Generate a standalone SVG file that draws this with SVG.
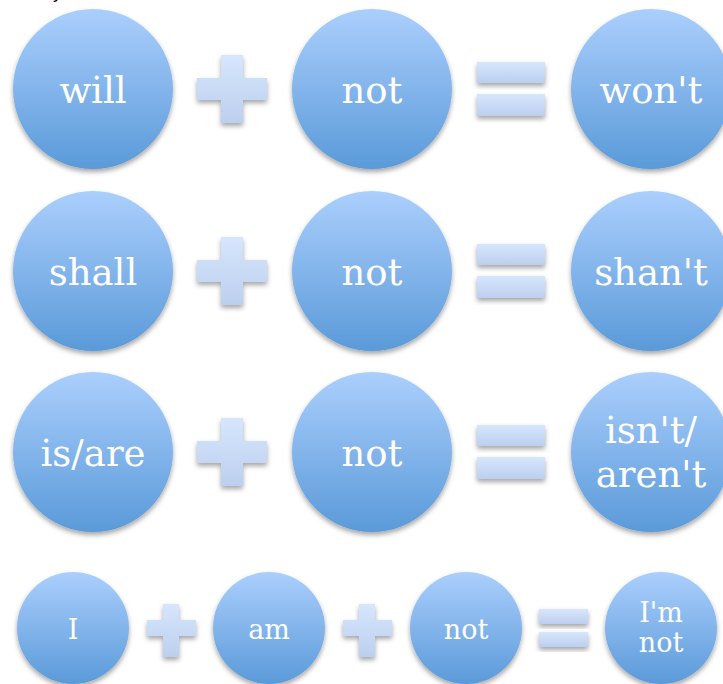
<svg xmlns="http://www.w3.org/2000/svg" width="723" height="684" viewBox="0 0 723 684">
<defs>
<linearGradient id="gc" x1="0" y1="0" x2="0" y2="1">
<stop offset="0" stop-color="#abcffd"/>
<stop offset="1" stop-color="#5a9ad9"/>
</linearGradient>
<linearGradient id="gs" x1="0" y1="0" x2="0" y2="1" gradientUnits="objectBoundingBox">
<stop offset="0" stop-color="#d6e6fd"/>
<stop offset="1" stop-color="#bccfee"/>
</linearGradient>
<filter id="sh" x="-20%" y="-20%" width="140%" height="150%">
<feDropShadow dx="0" dy="3" stdDeviation="2.5" flood-color="#000" flood-opacity="0.35"/>
</filter>
</defs>
<style>
.c{fill:url(#gc);filter:url(#sh)}
.s{fill:url(#gs);filter:url(#sh)}
.t{fill:#fff;font-family:"DejaVu Serif","Liberation Serif",serif;text-anchor:middle}
.b{font-size:37px}
.m{font-size:27px}
</style>
<rect width="723" height="684" fill="#fff"/>
<text x="53" y="-2" font-family="Liberation Sans, sans-serif" font-size="18" fill="#000">y</text>

<!-- Row 1 -->
<g id="n-will"><circle class="c" cx="93" cy="89" r="80"/><text class="t b" x="93" y="103">will</text></g>
<g id="op-plus1"><path class="s" d="M221 55h22v23h24v22h-24v23h-22v-23h-24v-22h24z"/></g>
<g id="n-not1"><circle class="c" cx="372" cy="89" r="80"/><text class="t b" x="372" y="103">not</text></g>
<g id="op-eq1"><rect class="s" x="477" y="62" width="68" height="21"/><rect class="s" x="477" y="94" width="68" height="22"/></g>
<g id="n-wont"><circle class="c" cx="651" cy="89" r="80"/><text class="t b" x="651" y="103">won't</text></g>

<!-- Row 2 -->
<g id="n-shall"><circle class="c" cx="93" cy="271" r="80"/><text class="t b" x="93" y="285">shall</text></g>
<g id="op-plus2"><path class="s" d="M221 237h22v23h24v22h-24v23h-22v-23h-24v-22h24z"/></g>
<g id="n-not2"><circle class="c" cx="372" cy="271" r="80"/><text class="t b" x="372" y="285">not</text></g>
<g id="op-eq2"><rect class="s" x="477" y="244" width="68" height="21"/><rect class="s" x="477" y="276" width="68" height="22"/></g>
<g id="n-shant"><circle class="c" cx="651" cy="271" r="80"/><text class="t b" x="651" y="285">shan't</text></g>

<!-- Row 3 -->
<g id="n-isare"><circle class="c" cx="93" cy="452" r="80"/><text class="t b" x="93" y="466">is/are</text></g>
<g id="op-plus3"><path class="s" d="M221 418h22v23h24v22h-24v23h-22v-23h-24v-22h24z"/></g>
<g id="n-not3"><circle class="c" cx="372" cy="452" r="80"/><text class="t b" x="372" y="466">not</text></g>
<g id="op-eq3"><rect class="s" x="477" y="425" width="68" height="21"/><rect class="s" x="477" y="457" width="68" height="22"/></g>
<g id="n-isnt"><circle class="c" cx="651" cy="452" r="80"/><text class="t b" x="651" y="443">isn't/</text><text class="t b" x="651" y="487">aren't</text></g>

<!-- Row 4 -->
<g id="n-I"><circle class="c" cx="73" cy="628" r="56"/><text class="t m" x="73" y="639">I</text></g>
<g id="op-plus4"><path class="s" d="M163 604h16v16h17v16h-17v21h-16v-21h-16v-16h16z"/></g>
<g id="n-am"><circle class="c" cx="269" cy="628" r="56"/><text class="t m" x="269" y="639">am</text></g>
<g id="op-plus5"><path class="s" d="M359 604h16v16h17v16h-17v21h-16v-21h-16v-16h16z"/></g>
<g id="n-not4"><circle class="c" cx="466" cy="628" r="56"/><text class="t m" x="466" y="639">not</text></g>
<g id="op-eq4"><rect class="s" x="539" y="609" width="49" height="15"/><rect class="s" x="539" y="632" width="49" height="15"/></g>
<g id="n-imnot"><circle class="c" cx="661" cy="628" r="56"/><text class="t m" x="661" y="622">I'm</text><text class="t m" x="661" y="652">not</text></g>

<g id="connectors"/>
</svg>
